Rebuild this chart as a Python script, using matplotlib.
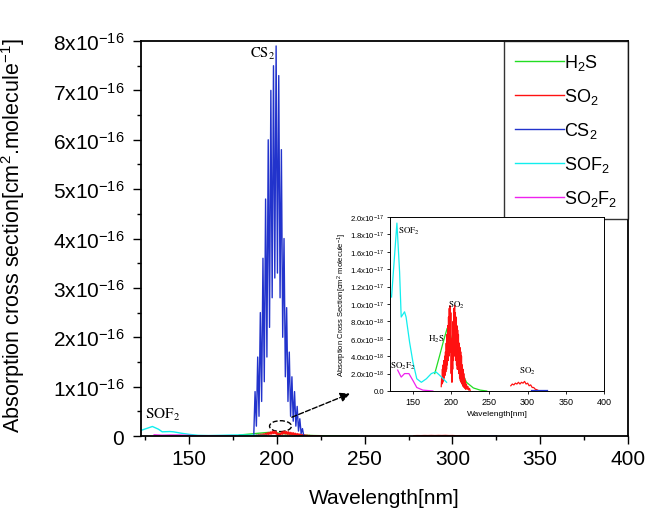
import matplotlib
matplotlib.use("Agg")
import matplotlib.pyplot as plt
from matplotlib.ticker import MultipleLocator, FuncFormatter
from matplotlib.patches import Ellipse
import numpy as np

plt.rcParams['font.family'] = ['Liberation Sans', 'DejaVu Sans']
plt.rcParams['mathtext.fontset'] = 'custom'
plt.rcParams['mathtext.rm'] = 'Liberation Sans'
plt.rcParams['mathtext.it'] = 'Liberation Sans:italic'

# ---- data (cross sections in cm^2/molecule) ----
cs2_wl = [186.75, 187.5, 188.25, 189.0, 189.75, 190.5, 191.25, 192.0, 192.75, 193.5,
          194.25, 195.0, 195.75, 196.5, 197.25, 198.0, 198.75, 199.5, 200.25, 201.0,
          201.75, 202.5, 203.25, 204.0, 204.75, 205.5, 206.25, 207.0, 207.75, 208.5,
          209.25, 210.0, 210.75, 211.5, 212.25, 213.0, 213.75, 214.5, 215.25,
          np.nan, 305.0, 310.0, 315.0, 320.0, 325.0]
cs2_val = [0.0, 0.9, 0.2, 1.6, 0.4, 2.5, 0.7, 3.6, 1.1, 4.8,
           1.6, 6.0, 2.2, 7.0, 2.8, 7.5, 3.2, 7.9, 3.3, 7.3,
           2.8, 5.8, 2.0, 4.0, 1.2, 2.6, 0.7, 1.7, 0.4, 1.2,
           0.3, 0.9, 0.2, 0.6, 0.1, 0.35, 0.05, 0.15, 0.0,
           np.nan, 0.001, 0.001, 0.001, 0.001, 0.001]  # x1e-16

so2_wl = [187.0, 187.5, 188.0, 188.5, 189.0, 189.5, 190.0, 190.5, 191.0, 191.5,
          192.0, 192.5, 193.0, 193.5, 194.0, 194.5, 195.0, 195.5, 196.0, 196.5,
          197.0, 197.5, 198.0, 198.5, 199.0, 199.5, 200.0, 200.5, 201.0, 201.5,
          202.0, 202.5, 203.0, 203.5, 204.0, 204.5, 205.0, 205.5, 206.0, 206.5,
          207.0, 207.5, 208.0, 208.5, 209.0, 209.5, 210.0, 210.5, 211.0, 211.5,
          212.0, 212.5, 213.0, 213.5, 214.0, 214.5, 215.0, 215.5, 216.0, 216.5,
          217.0, 217.5, 218.0, 218.5, 219.0, 220.0, 221.0, 222.0, 223.0, 224.0, 225.0,
          np.nan, 278, 280, 282, 284, 286, 288, 290, 292, 294, 296, 298, 300,
          302, 304, 306, 308, 310, 312, 314, 316]
so2_val = [0.5, 1.5, 0.8, 2.5, 1.0, 3.0, 1.2, 3.5, 1.5, 4.0,
           1.8, 4.5, 2.2, 5.5, 2.5, 6.5, 3.0, 7.5, 3.5, 8.5,
           4.0, 9.5, 5.0, 9.8, 4.5, 9.0, 2.0, 6.0, 1.0, 5.0,
           2.5, 8.0, 3.5, 9.5, 4.5, 9.8, 4.0, 9.0, 3.5, 8.5,
           3.0, 7.5, 2.5, 7.0, 2.5, 6.5, 2.0, 5.5, 1.5, 5.0,
           1.2, 4.5, 1.0, 4.0, 0.8, 3.0, 0.6, 2.5, 0.5, 2.0,
           0.4, 1.5, 0.3, 1.2, 0.2, 0.8, 0.2, 0.5, 0.1, 0.3, 0.0,
           np.nan, 0.6, 0.8, 0.7, 0.9, 0.8, 1.0, 0.8, 1.0, 0.9, 1.1, 0.8, 0.9,
           0.6, 0.7, 0.4, 0.4, 0.2, 0.15, 0.05, 0.0]  # x1e-18

h2s_wl = [178.5, 185.0, 189.5, 194.7, 197.4, 200.4, 206.0, 213.6, 220.0, 229.0, 238.0, 246.5]
h2s_val = [2.0, 4.1, 5.6, 7.2, 7.0, 6.0, 4.1, 2.2, 1.0, 0.35, 0.1, 0.0]  # x1e-18

sof2_wl = [122.0, 129.0, 132.5, 134.6, 139.0, 141.0, 145.6, 150.0, 155.0, 161.0,
           167.5, 174.0, 180.0, 185.0, 194.0]
sof2_val = [10.8, 19.3, 13.7, 8.5, 9.1, 8.5, 5.6, 3.3, 1.4, 1.0,
            1.4, 2.0, 2.2, 1.8, 1.0]  # x1e-18

so2f2_wl = [130.0, 134.6, 139.0, 144.7, 150.0, 155.0, 163.0, 176.0]
so2f2_val = [2.4, 1.6, 2.0, 2.0, 1.2, 0.4, 0.1, 0.0]  # x1e-18

main_yticks = [0, 1, 2, 3, 4, 5, 6, 7, 8]  # x1e-16
inset_yticks = [0.0, 2.0, 4.0, 6.0, 8.0, 10, 12, 14, 16, 18, 20]  # x1e-18

series = [
    ('H$_2$S', h2s_wl, np.array(h2s_val) * 1e-18, '#22dd22'),
    ('SO$_2$', so2_wl, np.array(so2_val) * 1e-18, '#ff1111'),
    ('CS$_2$', cs2_wl, np.array(cs2_val) * 1e-16, '#2233cc'),
    ('SOF$_2$', sof2_wl, np.array(sof2_val) * 1e-18, '#11eeee'),
    ('SO$_2$F$_2$', so2f2_wl, np.array(so2f2_val) * 1e-18, '#ee22ee'),
]

fig = plt.figure(figsize=(6.45, 5.1), dpi=100)
ax = fig.add_axes([0.2186, 0.1431, 0.755, 0.7745])

for name, x, y, c in series:
    ax.plot(x, y, color=c, lw=1.0, label=name)

ax.set_xlim(122.5, 400)
ax.set_ylim(0, 8e-16)
ax.xaxis.set_major_locator(MultipleLocator(50))
ax.xaxis.set_minor_locator(MultipleLocator(25))
ax.set_yticks([v * 1e-16 for v in main_yticks])
ax.yaxis.set_minor_locator(MultipleLocator(0.5e-16))


def main_fmt(v, pos):
    n = int(round(v / 1e-16))
    return '0' if n == 0 else '%dx10$^{-16}$' % n


ax.yaxis.set_major_formatter(FuncFormatter(main_fmt))
ax.tick_params(which='both', direction='out', top=False, right=False, width=1.0)
ax.tick_params(which='major', length=6, labelsize=15)
ax.tick_params(axis='y', which='major', pad=6)
ax.tick_params(which='minor', length=3)
for s in ax.spines.values():
    s.set_linewidth(1.3)
ax.set_xlabel('Wavelength[nm]', fontsize=15, labelpad=14)
ax.set_ylabel('Absorption cross section[cm$^2$.molecule$^{-1}$]', fontsize=15.5)
ax.yaxis.set_label_coords(-0.235, 0.51)

leg = ax.legend(loc='upper right', fontsize=13, handlelength=2.7, handletextpad=0.0,
                labelspacing=0.78, borderaxespad=0, frameon=True, fancybox=False,
                borderpad=0.6)
leg.get_frame().set_edgecolor('black')
leg.get_frame().set_linewidth(1.0)

ax.text(192, 7.75e-16, r'$\mathrm{CS}_2$', fontsize=10.5, ha='center', va='center',
        family='Liberation Serif', math_fontfamily='stix')
ax.text(135, 0.45e-16, r'$\mathrm{SOF}_2$', fontsize=11, ha='center', va='center',
        family='Liberation Serif', math_fontfamily='stix')

ax.add_patch(Ellipse((202, 0.2e-16), 12.5, 0.22e-16, fill=False, ls='--', lw=1.0, color='black'))
ax.annotate('', xy=(243, 0.88e-16), xytext=(207, 0.36e-16),
            arrowprops=dict(arrowstyle='-|>', ls='--', lw=1.0, color='black',
                            mutation_scale=14))

# ---- inset ----
ins = fig.add_axes([0.6047, 0.2314, 0.3318, 0.3412])
for name, x, y, c in series:
    x = np.array(x, dtype=float)
    y = np.array(y, dtype=float)
    if name == 'CS$_2$':
        keep = ~(x < 250)
        x, y = x[keep], y[keep]
    ins.plot(x, y, color=c, lw=0.9)
ins.set_xlim(120, 400)
ins.set_ylim(0, 2.0e-17)
ins.xaxis.set_major_locator(MultipleLocator(50))
ins.set_yticks([v * 1e-18 for v in inset_yticks])


def inset_fmt(v, pos):
    m = v / 1e-18
    if abs(m) < 1e-6:
        return '0.0'
    if m >= 10 - 1e-6:
        return '%.1fx10$^{-17}$' % (m / 10)
    return '%.1fx10$^{-18}$' % m


ins.yaxis.set_major_formatter(FuncFormatter(inset_fmt))
ins.tick_params(which='both', direction='out', labelsize=6.5, length=2.5, width=0.6, pad=1.5)
ins.tick_params(axis='y', labelsize=5.6)
for s in ins.spines.values():
    s.set_linewidth(0.7)
ins.set_xlabel('Wavelength[nm]', fontsize=6, labelpad=3)
ins.set_ylabel('Absorption Cross Section[cm$^2$ molecule$^{-1}$]', fontsize=5.5, labelpad=1)

for txt, x, y in [(r'$\mathrm{SOF}_2$', 130, 1.85e-17), (r'$\mathrm{SO}_2$', 207, 1.0e-17),
                  (r'$\mathrm{H}_2\mathrm{S}$', 181, 6.0e-18), (r'$\mathrm{SO}_2\mathrm{F}_2$', 120.5, 2.9e-18),
                  (r'$\mathrm{SO}_2$', 299, 2.4e-18)]:
    ins.text(x, y, txt, fontsize=6.5, ha='left' if x < 140 else 'center', va='center',
             family='Liberation Serif', math_fontfamily='stix')

fig.savefig('out.png', dpi=100)
